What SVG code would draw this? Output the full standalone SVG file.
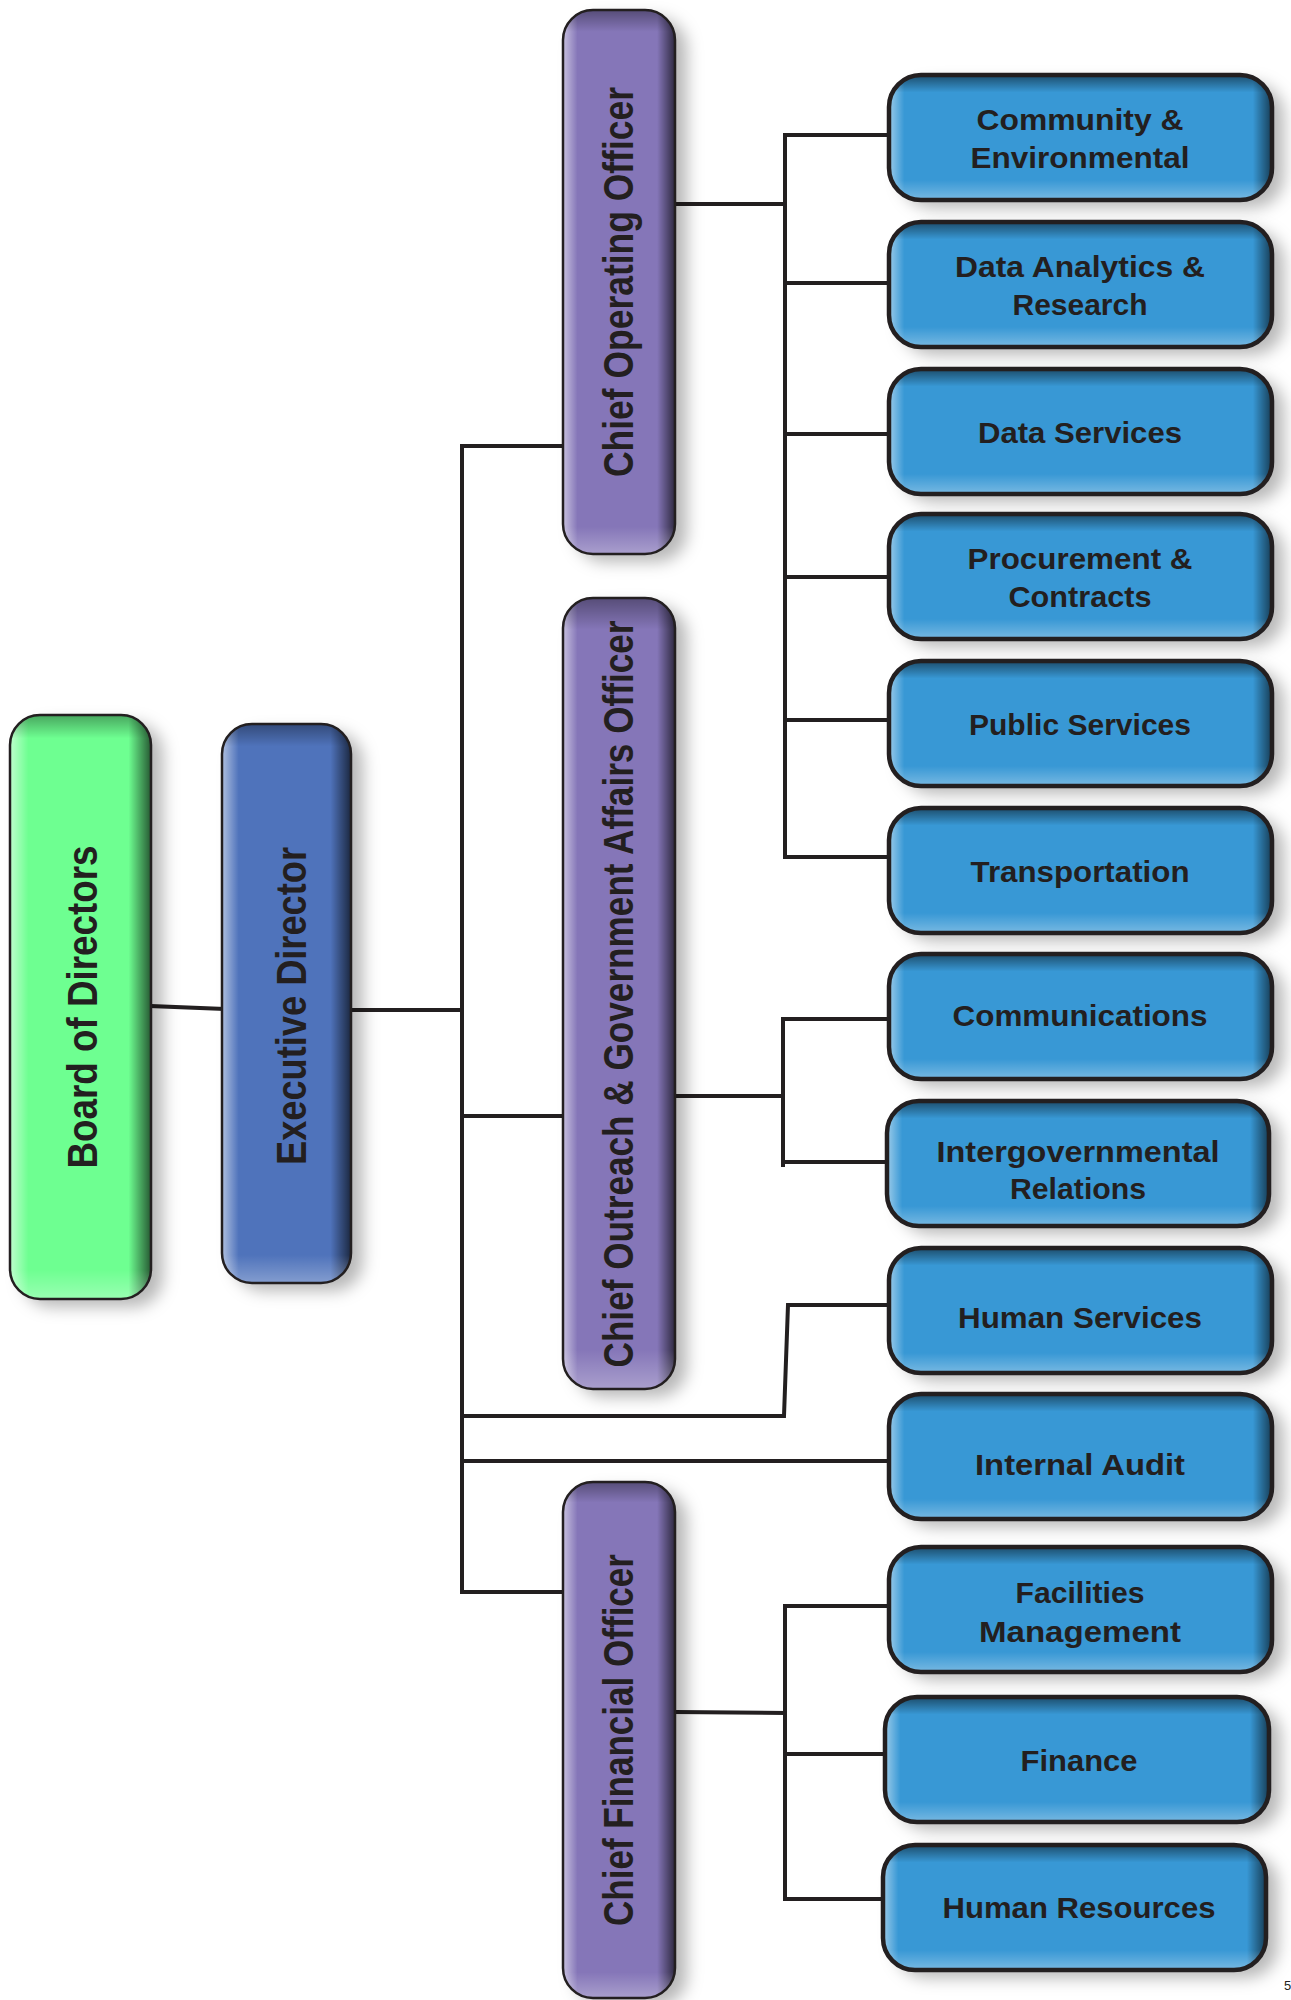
<svg xmlns="http://www.w3.org/2000/svg" width="1291" height="2000" viewBox="0 0 1291 2000">
<style>
.conn{fill:none;stroke:#231f20;stroke-width:4;stroke-linecap:square;stroke-linejoin:miter}
.vt{font-family:"Liberation Sans",Arial,sans-serif;font-weight:bold;font-size:42px;fill:#231f20;text-anchor:middle}
.bt{font-family:"Liberation Sans",Arial,sans-serif;font-weight:bold;font-size:30px;fill:#231f20;text-anchor:middle}
.outT{fill:none;stroke:#231f20;stroke-width:2.5}
.outB{fill:none;stroke:#231f20;stroke-width:4.5}
.blue{fill:#3998d5}
.purple{fill:#8576b8}
</style>
<defs>
<filter id="sh" x="-30%" y="-30%" width="160%" height="160%">
<feGaussianBlur in="SourceAlpha" stdDeviation="8"/>
<feOffset dx="12" dy="8" result="b"/>
<feFlood flood-color="#000" flood-opacity="0.28"/>
<feComposite in2="b" operator="in"/>
<feMerge><feMergeNode/><feMergeNode in="SourceGraphic"/></feMerge>
</filter>
<linearGradient id="hT" x1="0" y1="0" x2="1" y2="0">
<stop offset="0" stop-color="#fff" stop-opacity="0.55"/>
<stop offset="0.13" stop-color="#fff" stop-opacity="0"/>
<stop offset="0.84" stop-color="#000" stop-opacity="0"/>
<stop offset="1" stop-color="#000" stop-opacity="0.65"/>
</linearGradient>
<linearGradient id="vT" x1="0" y1="0" x2="0" y2="1">
<stop offset="0" stop-color="#000" stop-opacity="0.35"/>
<stop offset="0.04" stop-color="#000" stop-opacity="0"/>
<stop offset="0.95" stop-color="#fff" stop-opacity="0"/>
<stop offset="1" stop-color="#fff" stop-opacity="0.3"/>
</linearGradient>
<linearGradient id="hB" x1="0" y1="0" x2="1" y2="0">
<stop offset="0" stop-color="#fff" stop-opacity="0.5"/>
<stop offset="0.04" stop-color="#fff" stop-opacity="0"/>
<stop offset="0.95" stop-color="#000" stop-opacity="0"/>
<stop offset="1" stop-color="#000" stop-opacity="0.6"/>
</linearGradient>
<linearGradient id="vB" x1="0" y1="0" x2="0" y2="1">
<stop offset="0" stop-color="#000" stop-opacity="0.5"/>
<stop offset="0.14" stop-color="#000" stop-opacity="0"/>
<stop offset="0.84" stop-color="#fff" stop-opacity="0"/>
<stop offset="1" stop-color="#fff" stop-opacity="0.32"/>
</linearGradient>
</defs>

<g id="connectors">
<polyline class="conn" points="151,1006 223,1009"/>
<polyline class="conn" points="351,1010 462,1010"/>
<polyline class="conn" points="462,446 462,1592"/>
<polyline class="conn" points="462,446 563,446"/>
<polyline class="conn" points="462,1116 563,1116"/>
<polyline class="conn" points="462,1416 784,1416 788,1305 889,1305"/>
<polyline class="conn" points="462,1461 889,1461"/>
<polyline class="conn" points="462,1592 563,1592"/>
<polyline class="conn" points="675,204 785,204"/>
<polyline class="conn" points="889,135 785,135 785,857 889,857"/>
<polyline class="conn" points="785,283 889,283"/>
<polyline class="conn" points="785,434 889,434"/>
<polyline class="conn" points="785,577 889,577"/>
<polyline class="conn" points="785,720 889,720"/>
<polyline class="conn" points="675,1096 783,1096"/>
<polyline class="conn" points="889,1019 783,1019 783,1165"/>
<polyline class="conn" points="783,1162 887,1162"/>
<polyline class="conn" points="675,1712 785,1713"/>
<polyline class="conn" points="889,1606 785,1606 785,1899 883,1899"/>
<polyline class="conn" points="785,1754 885,1754"/>
</g>

<g id="board">
<rect x="10" y="715" width="141" height="584" rx="30" fill="#6eff91" filter="url(#sh)"/>
<rect x="10" y="715" width="141" height="584" rx="30" fill="url(#hT)"/>
<rect x="10" y="715" width="141" height="584" rx="30" fill="url(#vT)"/>
<rect x="10" y="715" width="141" height="584" rx="30" class="outT"/>
<text class="vt" transform="translate(97,1007) rotate(-90)" textLength="323" lengthAdjust="spacingAndGlyphs">Board of Directors</text>
</g>

<g id="exec">
<rect x="222" y="724" width="129" height="559" rx="30" fill="#5073bb" filter="url(#sh)"/>
<rect x="222" y="724" width="129" height="559" rx="30" fill="url(#hT)"/>
<rect x="222" y="724" width="129" height="559" rx="30" fill="url(#vT)"/>
<rect x="222" y="724" width="129" height="559" rx="30" class="outT"/>
<text class="vt" transform="translate(306,1006) rotate(-90)" textLength="318" lengthAdjust="spacingAndGlyphs">Executive Director</text>
</g>

<g id="coo">
<rect x="563" y="10" width="112" height="544" rx="30" class="purple" filter="url(#sh)"/>
<rect x="563" y="10" width="112" height="544" rx="30" fill="url(#hT)"/>
<rect x="563" y="10" width="112" height="544" rx="30" fill="url(#vT)"/>
<rect x="563" y="10" width="112" height="544" rx="30" class="outT"/>
<text class="vt" transform="translate(633,282) rotate(-90)" textLength="390" lengthAdjust="spacingAndGlyphs">Chief Operating Officer</text>
</g>

<g id="cogao">
<rect x="563" y="598" width="112" height="791" rx="30" class="purple" filter="url(#sh)"/>
<rect x="563" y="598" width="112" height="791" rx="30" fill="url(#hT)"/>
<rect x="563" y="598" width="112" height="791" rx="30" fill="url(#vT)"/>
<rect x="563" y="598" width="112" height="791" rx="30" class="outT"/>
<text class="vt" transform="translate(633,994) rotate(-90)" textLength="747" lengthAdjust="spacingAndGlyphs">Chief Outreach &amp; Government Affairs Officer</text>
</g>

<g id="cfo">
<rect x="563" y="1482" width="112" height="516" rx="30" class="purple" filter="url(#sh)"/>
<rect x="563" y="1482" width="112" height="516" rx="30" fill="url(#hT)"/>
<rect x="563" y="1482" width="112" height="516" rx="30" fill="url(#vT)"/>
<rect x="563" y="1482" width="112" height="516" rx="30" class="outT"/>
<text class="vt" transform="translate(633,1740) rotate(-90)" textLength="372" lengthAdjust="spacingAndGlyphs">Chief Financial Officer</text>
</g>

<g id="community">
<rect x="889" y="75" width="383" height="125" rx="32" class="blue" filter="url(#sh)"/>
<rect x="889" y="75" width="383" height="125" rx="32" fill="url(#hB)"/>
<rect x="889" y="75" width="383" height="125" rx="32" fill="url(#vB)"/>
<rect x="889" y="75" width="383" height="125" rx="32" class="outB"/>
<text class="bt" x="1080" y="130" textLength="207" lengthAdjust="spacingAndGlyphs">Community &amp;</text>
<text class="bt" x="1080" y="168" textLength="219" lengthAdjust="spacingAndGlyphs">Environmental</text>
</g>

<g id="dataanalytics">
<rect x="889" y="222" width="383" height="125" rx="32" class="blue" filter="url(#sh)"/>
<rect x="889" y="222" width="383" height="125" rx="32" fill="url(#hB)"/>
<rect x="889" y="222" width="383" height="125" rx="32" fill="url(#vB)"/>
<rect x="889" y="222" width="383" height="125" rx="32" class="outB"/>
<text class="bt" x="1080" y="277" textLength="250" lengthAdjust="spacingAndGlyphs">Data Analytics &amp;</text>
<text class="bt" x="1080" y="315" textLength="135" lengthAdjust="spacingAndGlyphs">Research</text>
</g>

<g id="dataservices">
<rect x="889" y="369" width="383" height="125" rx="32" class="blue" filter="url(#sh)"/>
<rect x="889" y="369" width="383" height="125" rx="32" fill="url(#hB)"/>
<rect x="889" y="369" width="383" height="125" rx="32" fill="url(#vB)"/>
<rect x="889" y="369" width="383" height="125" rx="32" class="outB"/>
<text class="bt" x="1080" y="443" textLength="204" lengthAdjust="spacingAndGlyphs">Data Services</text>
</g>

<g id="procurement">
<rect x="889" y="514" width="383" height="125" rx="32" class="blue" filter="url(#sh)"/>
<rect x="889" y="514" width="383" height="125" rx="32" fill="url(#hB)"/>
<rect x="889" y="514" width="383" height="125" rx="32" fill="url(#vB)"/>
<rect x="889" y="514" width="383" height="125" rx="32" class="outB"/>
<text class="bt" x="1080" y="569" textLength="225" lengthAdjust="spacingAndGlyphs">Procurement &amp;</text>
<text class="bt" x="1080" y="607" textLength="143" lengthAdjust="spacingAndGlyphs">Contracts</text>
</g>

<g id="publicservices">
<rect x="889" y="661" width="383" height="125" rx="32" class="blue" filter="url(#sh)"/>
<rect x="889" y="661" width="383" height="125" rx="32" fill="url(#hB)"/>
<rect x="889" y="661" width="383" height="125" rx="32" fill="url(#vB)"/>
<rect x="889" y="661" width="383" height="125" rx="32" class="outB"/>
<text class="bt" x="1080" y="735" textLength="222" lengthAdjust="spacingAndGlyphs">Public Services</text>
</g>

<g id="transportation">
<rect x="889" y="808" width="383" height="125" rx="32" class="blue" filter="url(#sh)"/>
<rect x="889" y="808" width="383" height="125" rx="32" fill="url(#hB)"/>
<rect x="889" y="808" width="383" height="125" rx="32" fill="url(#vB)"/>
<rect x="889" y="808" width="383" height="125" rx="32" class="outB"/>
<text class="bt" x="1080" y="882" textLength="219" lengthAdjust="spacingAndGlyphs">Transportation</text>
</g>

<g id="communications">
<rect x="889" y="954" width="383" height="125" rx="32" class="blue" filter="url(#sh)"/>
<rect x="889" y="954" width="383" height="125" rx="32" fill="url(#hB)"/>
<rect x="889" y="954" width="383" height="125" rx="32" fill="url(#vB)"/>
<rect x="889" y="954" width="383" height="125" rx="32" class="outB"/>
<text class="bt" x="1080" y="1026" textLength="255" lengthAdjust="spacingAndGlyphs">Communications</text>
</g>

<g id="intergov">
<rect x="887" y="1101" width="382" height="125" rx="32" class="blue" filter="url(#sh)"/>
<rect x="887" y="1101" width="382" height="125" rx="32" fill="url(#hB)"/>
<rect x="887" y="1101" width="382" height="125" rx="32" fill="url(#vB)"/>
<rect x="887" y="1101" width="382" height="125" rx="32" class="outB"/>
<text class="bt" x="1078" y="1162" textLength="283" lengthAdjust="spacingAndGlyphs">Intergovernmental</text>
<text class="bt" x="1078" y="1199" textLength="136" lengthAdjust="spacingAndGlyphs">Relations</text>
</g>

<g id="humanservices">
<rect x="889" y="1248" width="383" height="125" rx="32" class="blue" filter="url(#sh)"/>
<rect x="889" y="1248" width="383" height="125" rx="32" fill="url(#hB)"/>
<rect x="889" y="1248" width="383" height="125" rx="32" fill="url(#vB)"/>
<rect x="889" y="1248" width="383" height="125" rx="32" class="outB"/>
<text class="bt" x="1080" y="1328" textLength="244" lengthAdjust="spacingAndGlyphs">Human Services</text>
</g>

<g id="internalaudit">
<rect x="889" y="1394" width="383" height="125" rx="32" class="blue" filter="url(#sh)"/>
<rect x="889" y="1394" width="383" height="125" rx="32" fill="url(#hB)"/>
<rect x="889" y="1394" width="383" height="125" rx="32" fill="url(#vB)"/>
<rect x="889" y="1394" width="383" height="125" rx="32" class="outB"/>
<text class="bt" x="1080" y="1475" textLength="210" lengthAdjust="spacingAndGlyphs">Internal Audit</text>
</g>

<g id="facilities">
<rect x="889" y="1547" width="383" height="125" rx="32" class="blue" filter="url(#sh)"/>
<rect x="889" y="1547" width="383" height="125" rx="32" fill="url(#hB)"/>
<rect x="889" y="1547" width="383" height="125" rx="32" fill="url(#vB)"/>
<rect x="889" y="1547" width="383" height="125" rx="32" class="outB"/>
<text class="bt" x="1080" y="1603" textLength="129" lengthAdjust="spacingAndGlyphs">Facilities</text>
<text class="bt" x="1080" y="1642" textLength="202" lengthAdjust="spacingAndGlyphs">Management</text>
</g>

<g id="finance">
<rect x="885" y="1697" width="384" height="125" rx="32" class="blue" filter="url(#sh)"/>
<rect x="885" y="1697" width="384" height="125" rx="32" fill="url(#hB)"/>
<rect x="885" y="1697" width="384" height="125" rx="32" fill="url(#vB)"/>
<rect x="885" y="1697" width="384" height="125" rx="32" class="outB"/>
<text class="bt" x="1079" y="1771" textLength="117" lengthAdjust="spacingAndGlyphs">Finance</text>
</g>

<g id="humanresources">
<rect x="883" y="1845" width="383" height="125" rx="32" class="blue" filter="url(#sh)"/>
<rect x="883" y="1845" width="383" height="125" rx="32" fill="url(#hB)"/>
<rect x="883" y="1845" width="383" height="125" rx="32" fill="url(#vB)"/>
<rect x="883" y="1845" width="383" height="125" rx="32" class="outB"/>
<text class="bt" x="1079" y="1918" textLength="273" lengthAdjust="spacingAndGlyphs">Human Resources</text>
</g>

<text x="1284" y="1990" font-family="Liberation Sans, Arial, sans-serif" font-size="13" fill="#231f20">5</text>
</svg>
